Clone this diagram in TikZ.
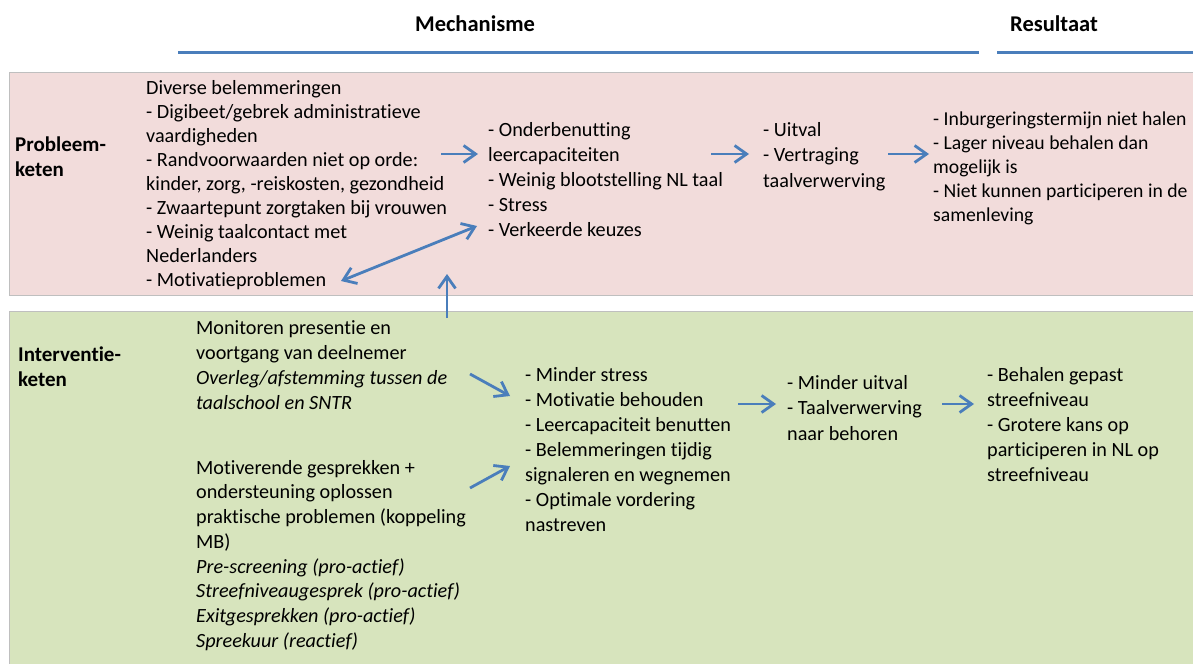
\documentclass[tikz,border=0pt]{standalone}
\usepackage{fontspec}
\setmainfont{Carlito}[Ligatures=NoCommon]
\usetikzlibrary{arrows.meta}
\definecolor{pinkbg}{HTML}{F2DCDB}
\definecolor{greenbg}{HTML}{D7E4BD}
\definecolor{accblue}{HTML}{4A7EBB}
\definecolor{edgegray}{HTML}{BFBFBF}
\newcommand{\fl}{\rule{0pt}{15pt}}
\tikzset{
  txt/.style={anchor=north west, inner sep=0pt, align=left, text=black,
    font=\fontsize{20.2}{24.5}\selectfont},
  txttight/.style={txt, font=\fontsize{20.2}{24}\selectfont},
  head/.style={anchor=base, inner sep=0pt, font=\fontsize{22.5}{26}\selectfont\bfseries},
  lbl/.style={txt, font=\fontsize{21}{25}\selectfont\bfseries},
  barb/.tip={Straight Barb[length=12pt,width=17pt,line width=2.8pt]},
  flow/.style={draw=accblue, line width=2.8pt, -barb},
  dflow/.style={draw=accblue, line width=2.8pt, barb-barb},
  rule/.style={draw=accblue, line width=3pt},
  band/.style={draw=edgegray, line width=0.9pt}
}
\begin{document}
\begin{tikzpicture}[x=1pt,y=-1pt]
\useasboundingbox (0,0) rectangle (1193,664);
% bands
\fill[pinkbg] (9,72) rectangle (1193,295);
\draw[band] (1193,72) -- (9,72) -- (9,295) -- (1193,295);
\fill[greenbg] (9,311) rectangle (1193,664);
\draw[band] (1193,311) -- (9,311) -- (9,664);
% headers
\node[head] (mech) at (475,31) {Mechanisme};
\node[head] (res) at (1054,31) {Resultaat};
\coordinate (m1) at (178,52); \coordinate (m2) at (979,52);
\coordinate (r1) at (997,52); \coordinate (r2) at (1193,52);
\draw[rule] (m1) -- (m2);
\draw[rule] (r1) -- (r2);
% row labels
\node[lbl] (plab) at (15,136) {\fl Probleem-\\keten};
\node[lbl] (ilab) at (18,346) {\fl Interventie-\\keten};
% problem chain
\node[txttight] (p1) at (146,79) {\fl Diverse belemmeringen\\
- Digibeet/gebrek administratieve\\
vaardigheden\\
- Randvoorwaarden niet op orde:\\
kinder, zorg, -reiskosten, gezondheid\\
- Zwaartepunt zorgtaken bij vrouwen\\
- Weinig taalcontact met\\
Nederlanders\\
- Motivatieproblemen};
\node[txt, font=\fontsize{20.2}{25}\selectfont] (p2) at (488,121) {\fl - Onderbenutting\\
leercapaciteiten\\
- Weinig blootstelling NL taal\\
- Stress\\
- Verkeerde keuzes};
\node[txt, font=\fontsize{20.2}{25.5}\selectfont] (p3) at (763,121) {\fl - Uitval\\
- Vertraging\\
taalverwerving};
\node[txt, font=\fontsize{19.7}{24}\selectfont] (p4) at (933,110) {\fl - Inburgeringstermijn niet halen\\
- Lager niveau behalen dan\\
mogelijk is\\
- Niet kunnen participeren in de\\
samenleving};
% intervention chain
\node[txt, font=\fontsize{20.2}{25}\selectfont] (i1) at (196,319) {\fl Monitoren presentie en\\
voortgang van deelnemer\\
\itshape Overleg/afstemming tussen de\\
\itshape taalschool en SNTR};
\node[txt, font=\fontsize{20.2}{24.7}\selectfont] (i2) at (196,459) {\fl Motiverende gesprekken +\\
ondersteuning oplossen\\
praktische problemen (koppeling\\
MB)\\
\itshape Pre-screening (pro-actief)\\
\itshape Streefniveaugesprek (pro-actief)\\
\itshape Exitgesprekken (pro-actief)\\
\itshape Spreekuur (reactief)};
\node[txt, font=\fontsize{20.2}{25}\selectfont] (i3) at (525,366) {\fl - Minder stress\\
- Motivatie behouden\\
- Leercapaciteit benutten\\
- Belemmeringen tijdig\\
signaleren en wegnemen\\
- Optimale vordering\\
nastreven};
\node[txt, font=\fontsize{20.2}{25.5}\selectfont] (i4) at (787,374) {\fl - Minder uitval\\
- Taalverwerving\\
naar behoren};
\node[txt, font=\fontsize{20.2}{25}\selectfont] (i5) at (987,366) {\fl - Behalen gepast\\
streefniveau\\
- Grotere kans op\\
participeren in NL op\\
streefniveau};
% arrow end points
\coordinate (a1s) at (441,154); \coordinate (a1e) at (478,154);
\coordinate (a2s) at (711,154); \coordinate (a2e) at (749,154);
\coordinate (a3s) at (888,154); \coordinate (a3e) at (929,154);
\coordinate (dbs) at (341,281); \coordinate (dbe) at (477,226);
\coordinate (ups) at (447,318); \coordinate (upe) at (447,274);
\coordinate (b1s) at (470,374); \coordinate (b1e) at (510,396);
\coordinate (b2s) at (470,488); \coordinate (b2e) at (510,466);
\coordinate (b3s) at (738,404); \coordinate (b3e) at (776,404);
\coordinate (b4s) at (942,404); \coordinate (b4e) at (974,404);
\draw[flow] (a1s) -- (a1e);
\draw[flow] (a2s) -- (a2e);
\draw[flow] (a3s) -- (a3e);
\draw[dflow] (dbs) -- (dbe);
\draw[flow] (ups) -- (upe);
\draw[flow] (b1s) -- (b1e);
\draw[flow] (b2s) -- (b2e);
\draw[flow] (b3s) -- (b3e);
\draw[flow] (b4s) -- (b4e);
\end{tikzpicture}
\end{document}
